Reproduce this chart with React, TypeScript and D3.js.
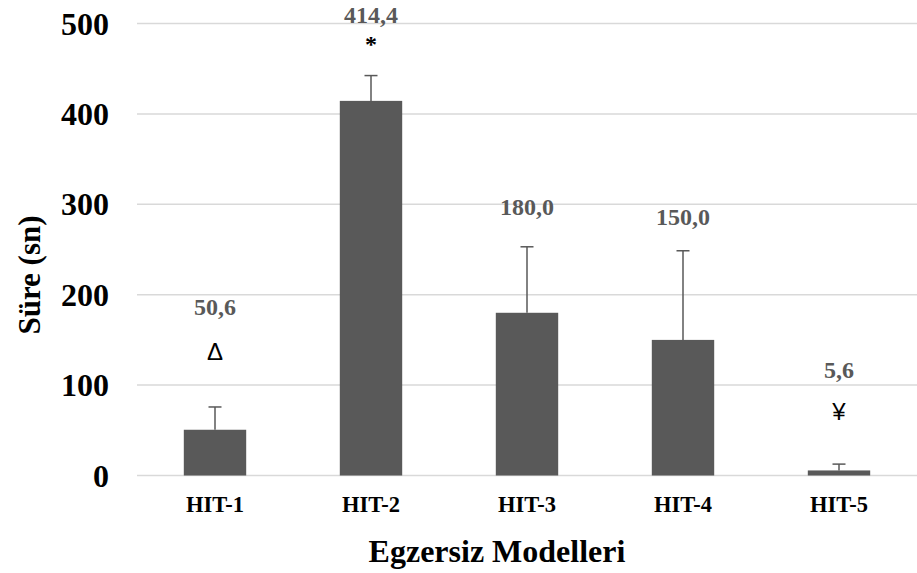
import React from 'react';
import * as d3 from 'd3';

const categories = ['HIT-1', 'HIT-2', 'HIT-3', 'HIT-4', 'HIT-5'];
const means = [50.6, 414.4, 180.0, 150.0, 5.6];
const sds = [25.2, 28, 73, 98.6, 7];
const valueLabels = ['50,6', '414,4', '180,0', '150,0', '5,6'];
// where each value label sits, in axis units
const labelAt = [177.7, 501, 288.5, 277, 108];
const marks = ['Δ', '*', '', '', '¥'];
const markAt = [128, 468, 0, 0, 61.5];
const yTicks = [0, 100, 200, 300, 400, 500];

const W = 917;
const H = 573;
const serif = '"Liberation Serif", "Times New Roman", serif';
const sans = '"Liberation Sans", Arial, sans-serif';
const barColor = '#595959';

export default function App() {
  const x = d3.scaleBand().domain(categories).range([137, 917]).paddingInner(0.6).paddingOuter(0.3);
  const y = d3.scaleLinear().domain([0, 500]).range([475.5, 23.5]);
  const bw = x.bandwidth();

  return (
    <svg width={W} height={H} style={{ position: 'absolute', left: 0, top: 0, background: '#fff' }}>
      <rect width={W} height={H} fill="#fff" />
      {yTicks.map(t => (
        <g key={t}>
          <line x1={137} x2={917} y1={y(t)} y2={y(t)} stroke="#d9d9d9" strokeWidth={1.5} />
          <text x={109} y={y(t) + 11} textAnchor="end" fontFamily={serif} fontWeight="bold" fontSize={32} fill="#000">
            {t}
          </text>
        </g>
      ))}
      {categories.map((c, i) => {
        const cx = x(c)! + bw / 2;
        const top = y(means[i] + sds[i]);
        return (
          <g key={c}>
            <rect x={x(c)} y={y(means[i])} width={bw} height={y(0) - y(means[i])} fill={barColor} />
            <line x1={cx} x2={cx} y1={y(means[i])} y2={top} stroke={barColor} strokeWidth={1.5} />
            <line x1={cx - 6.5} x2={cx + 6.5} y1={top} y2={top} stroke={barColor} strokeWidth={1.5} />
            <text x={cx} y={y(labelAt[i])} textAnchor="middle" fontFamily={serif} fontWeight="bold" fontSize={24} fill={barColor}>
              {valueLabels[i]}
            </text>
            {marks[i] && (
              <text
                x={cx}
                y={y(markAt[i])}
                textAnchor="middle"
                fontFamily={marks[i] === '*' ? serif : sans}
                fontWeight={marks[i] === '*' ? 'bold' : 'normal'}
                fontSize={24}
                fill="#000"
              >
                {marks[i]}
              </text>
            )}
            <text x={cx} y={512} textAnchor="middle" fontFamily={serif} fontWeight="bold" fontSize={22.5} fill="#000">
              {c}
            </text>
          </g>
        );
      })}
      <text x={497} y={562} textAnchor="middle" fontFamily={serif} fontWeight="bold" fontSize={32} fill="#000">
        Egzersiz Modelleri
      </text>
      <text
        transform="translate(40,275) rotate(-90)"
        textAnchor="middle"
        fontFamily={serif}
        fontWeight="bold"
        fontSize={31}
        fill="#000"
      >
        Süre (sn)
      </text>
    </svg>
  );
}
